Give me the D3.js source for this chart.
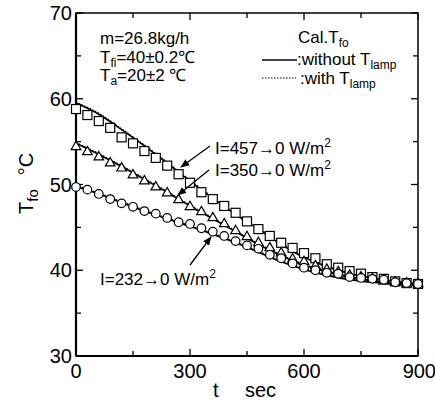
<!DOCTYPE html>
<html>
<head>
<meta charset="utf-8">
<script src="https://cdn.jsdelivr.net/npm/d3@7"></script>
<style>
  body { margin: 0; background: #fff; }
  svg { font-family: "Liberation Sans", Arial, Helvetica, sans-serif; }
  .tick-label { font-size: 20px; }
  .note { font-size: 17px; }
</style>
</head>
<body>
<svg id="chart" width="435" height="402"></svg>
<script>
// measured times (every 30 s)
var times = [0,30,60,90,120,150,180,210,240,270,300,330,360,390,420,450,480,510,540,570,600,630,660,690,720,750,780,810,840,870,900];

var sq457 = [58.8,58.1,57.4,56.6,55.5,54.8,53.9,53.1,52.2,51.2,50.2,49.1,48.3,47.5,46.7,45.7,44.8,44.0,43.2,42.6,42.0,41.4,40.7,40.3,39.9,39.6,39.2,39.0,38.7,38.5,38.4];
var tri350 = [54.4,53.8,53.2,52.5,51.9,51.1,50.4,49.7,49.0,48.2,47.4,46.8,46.1,45.4,44.6,43.9,43.2,42.6,42.0,41.3,41.0,40.5,40.1,39.8,39.4,39.2,39.0,38.7,38.6,38.5,38.4];
var cir232 = [49.7,49.4,48.9,48.3,47.8,47.4,46.9,46.6,46.1,45.6,45.4,44.9,44.5,44.0,43.4,42.9,42.5,41.8,41.4,40.8,40.3,40.0,39.7,39.6,39.2,39.1,39.0,38.9,38.6,38.5,38.4];

// calculated curves (every 60 s)
var calcTimes = [0,60,120,180,240,300,360,420,480,540,600,660,720,780,840,900];
var calc457 = [59.5,58.2,56.4,54.5,52.5,50.4,48.4,46.5,44.8,43.0,41.5,40.4,39.6,39.1,38.7,38.4];
var calc350 = [54.8,53.5,52.1,50.6,49.1,47.5,46.0,44.5,43.0,41.7,40.6,39.8,39.2,38.8,38.5,38.3];
var calc232 = [49.8,48.9,47.9,46.9,46.0,45.1,44.2,43.2,42.1,41.0,40.1,39.4,38.9,38.6,38.4,38.3];
var lamp457 = [59.6,58.3,56.5,54.6,52.6,50.5,48.5,46.6,44.9,43.1,41.6,40.5,39.7,39.1,38.7,38.4];
var lamp350 = [54.9,53.6,52.2,50.7,49.2,47.6,46.1,44.6,43.1,41.8,40.7,39.9,39.3,38.8,38.5,38.3];
var lamp232 = [49.9,49.0,48.0,47.0,46.1,45.2,44.3,43.3,42.2,41.1,40.2,39.5,39.0,38.6,38.4,38.3];

var xTicks = [0,300,600,900], xMinor = [150,450,750];
var yTicks = [30,40,50,60,70], yMinor = [35,45,55,65];

var svg = d3.select("#chart");
var x = d3.scaleLinear().domain([0,900]).range([76,418]),
    y = d3.scaleLinear().domain([30,70]).range([356,13]);

var line = d3.line()
  .curve(d3.curveMonotoneX)
  .x(function(d) { return x(d[0]); })
  .y(function(d) { return y(d[1]); });

function pairs(ts, vs) { return ts.map(function(t, i) { return [t, vs[i]]; }); }

// frame
svg.append("rect")
  .attr("x", x(0)).attr("y", y(70))
  .attr("width", x(900)-x(0)).attr("height", y(30)-y(70))
  .attr("fill", "none").attr("stroke", "#000").attr("stroke-width", 1.5);
svg.append("line").attr("x1", x(0)).attr("x2", x(0)).attr("y1", y(70)).attr("y2", y(30))
  .attr("stroke", "#000").attr("stroke-width", 2.2);
svg.append("line").attr("x1", x(0)).attr("x2", x(900)).attr("y1", y(30)).attr("y2", y(30))
  .attr("stroke", "#000").attr("stroke-width", 2.2);

// ticks (inward) on all four sides
var ticks = svg.append("g").attr("stroke", "#000").attr("stroke-width", 1.3);
function xTick(v, len) {
  ticks.append("line").attr("x1", x(v)).attr("x2", x(v)).attr("y1", y(30)).attr("y2", y(30)-len);
  ticks.append("line").attr("x1", x(v)).attr("x2", x(v)).attr("y1", y(70)).attr("y2", y(70)+len);
}
function yTick(v, len) {
  ticks.append("line").attr("x1", x(0)).attr("x2", x(0)+len).attr("y1", y(v)).attr("y2", y(v));
  ticks.append("line").attr("x1", x(900)).attr("x2", x(900)-len).attr("y1", y(v)).attr("y2", y(v));
}
xTicks.forEach(function(v) { xTick(v, 7); });
xMinor.forEach(function(v) { xTick(v, 5); });
yTicks.forEach(function(v) { yTick(v, 7); });
yMinor.forEach(function(v) { yTick(v, 5); });

svg.selectAll(".xl").data(xTicks).enter().append("text")
  .attr("class", "tick-label")
  .attr("x", function(d) { return x(d); }).attr("y", 378)
  .attr("text-anchor", function(d) { return d === 900 ? "end" : "middle"; })
  .attr("dx", function(d) { return d === 900 ? 18 : 0; })
  .text(function(d) { return d; });
svg.selectAll(".yl").data(yTicks).enter().append("text")
  .attr("class", "tick-label")
  .attr("x", 72).attr("y", function(d) { return y(d) + 7; })
  .attr("text-anchor", "end")
  .text(function(d) { return d; });

// axis titles
svg.append("text").attr("font-size", 20).attr("x", 213).attr("y", 397).text("t");
svg.append("text").attr("font-size", 20).attr("x", 245).attr("y", 397).text("sec");
var yt = svg.append("text").attr("font-size", 20)
  .attr("transform", "translate(33,214) rotate(-90)");
yt.append("tspan").text("T");
yt.append("tspan").attr("font-size", 15).attr("dy", 5).text("fo");
yt.append("tspan").attr("dy", -5).attr("dx", 14).text("°C");

// calculated curves
[calc457, calc350, calc232].forEach(function(vs) {
  svg.append("path").datum(pairs(calcTimes, vs))
    .attr("d", line).attr("fill", "none").attr("stroke", "#000").attr("stroke-width", 1.6);
});
[lamp457, lamp350, lamp232].forEach(function(vs) {
  svg.append("path").datum(pairs(calcTimes, vs))
    .attr("d", line).attr("fill", "none").attr("stroke", "#000")
    .attr("stroke-width", 1.2).attr("stroke-dasharray", "1.5,1.5");
});

// measured markers
var mk = svg.append("g").attr("fill", "#fff").attr("stroke", "#000").attr("stroke-width", 1.2);
mk.selectAll(".sq").data(pairs(times, sq457)).enter().append("rect")
  .attr("x", function(d) { return x(d[0]) - 4.5; })
  .attr("y", function(d) { return y(d[1]) - 4.5; })
  .attr("width", 9).attr("height", 9);
var tri = d3.symbol().type(d3.symbolTriangle).size(40);
mk.selectAll(".tr").data(pairs(times, tri350)).enter().append("path")
  .attr("d", tri)
  .attr("transform", function(d) { return "translate(" + x(d[0]) + "," + y(d[1]) + ")"; });
mk.selectAll(".ci").data(pairs(times, cir232)).enter().append("circle")
  .attr("cx", function(d) { return x(d[0]); })
  .attr("cy", function(d) { return y(d[1]); })
  .attr("r", 4.3);

// text with a subscript part
function sub(t, main, s, rest) {
  t.append("tspan").text(main);
  t.append("tspan").attr("font-size", 12).attr("dy", 4).text(s);
  if (rest) t.append("tspan").attr("dy", -4).text(rest);
}
svg.append("text").attr("class", "note").attr("x", 100).attr("y", 44).text("m=26.8kg/h");
sub(svg.append("text").attr("class", "note").attr("x", 100).attr("y", 63), "T", "fi", "=40±0.2℃");
sub(svg.append("text").attr("class", "note").attr("x", 100).attr("y", 81), "T", "a", "=20±2 ℃");

// legend
sub(svg.append("text").attr("class", "note").attr("x", 298).attr("y", 43), "Cal.T", "fo");
svg.append("line").attr("x1", 262).attr("x2", 297).attr("y1", 60).attr("y2", 60)
  .attr("stroke", "#000").attr("stroke-width", 1.5);
sub(svg.append("text").attr("class", "note").attr("x", 297).attr("y", 65), ":without T", "lamp");
svg.append("line").attr("x1", 262).attr("x2", 296).attr("y1", 78).attr("y2", 78)
  .attr("stroke", "#000").attr("stroke-width", 1.2).attr("stroke-dasharray", "1.5,1.5");
sub(svg.append("text").attr("class", "note").attr("x", 300).attr("y", 84), ":with T", "lamp");

// intensity labels with arrows
svg.append("defs").append("marker")
  .attr("id", "ah").attr("viewBox", "0 0 10 10").attr("refX", 9).attr("refY", 5)
  .attr("markerWidth", 7).attr("markerHeight", 7).attr("orient", "auto")
  .append("path").attr("d", "M0,1 L10,5 L0,9 Z").attr("fill", "#000");

function intensity(tx, ty, label, x1, y1, x2, y2) {
  var t = svg.append("text").attr("class", "note").attr("x", tx).attr("y", ty);
  t.append("tspan").text(label + "→0 W/m");
  t.append("tspan").attr("font-size", 12).attr("dy", -7).text("2");
  svg.append("line").attr("x1", x1).attr("y1", y1).attr("x2", x2).attr("y2", y2)
    .attr("stroke", "#000").attr("stroke-width", 1.3).attr("marker-end", "url(#ah)");
}
intensity(215, 154, "I=457", 210, 146, 181, 167);
intensity(215, 176, "I=350", 209, 170, 178, 195);
intensity(100, 285, "I=232", 190, 265, 211, 237);
</script>
</body>
</html>
